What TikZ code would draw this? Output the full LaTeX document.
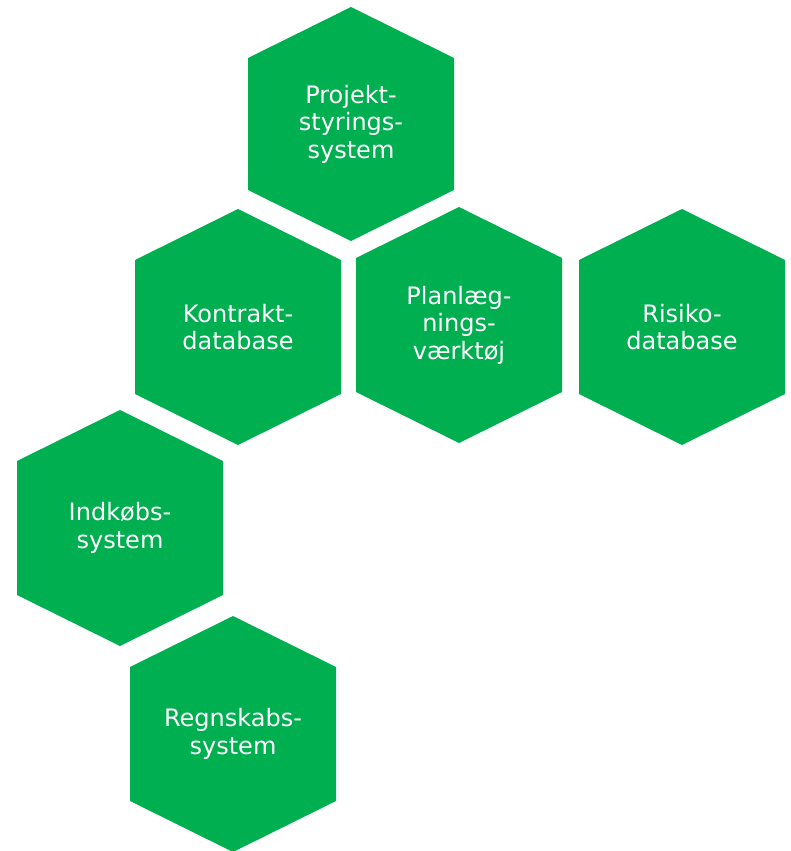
\documentclass[tikz,border=0pt]{standalone}
\usepackage{fontspec}
\setmainfont{DejaVu Sans}
\definecolor{hexgreen}{RGB}{0,176,80}
\begin{document}
\begin{tikzpicture}[x=1pt,y=-1pt,
  hexlabel/.style={text=white,align=center,font=\fontsize{24}{27.5}\selectfont}]
\useasboundingbox (0,0) rectangle (790,851);
\fill[hexgreen] (351,7) -- (454,58) -- (454,190) -- (351,241) -- (248,190) -- (248,58) -- cycle;
\node[hexlabel] (proj) at (351,124) {Projekt-\\styrings-\\system};
\fill[hexgreen] (238,209) -- (341,260) -- (341,394) -- (238,445) -- (135,394) -- (135,260) -- cycle;
\node[hexlabel] (kontr) at (238,327) {Kontrakt-\\database};
\fill[hexgreen] (459,207) -- (562,258) -- (562,392) -- (459,443) -- (356,392) -- (356,258) -- cycle;
\node[hexlabel] (plan) at (459,325) {Planlæg-\\nings-\\værktøj};
\fill[hexgreen] (682,209) -- (785,260) -- (785,394) -- (682,445) -- (579,394) -- (579,260) -- cycle;
\node[hexlabel] (risk) at (682,327) {Risiko-\\database};
\fill[hexgreen] (120,410) -- (223,461) -- (223,595) -- (120,646) -- (17,595) -- (17,461) -- cycle;
\node[hexlabel] (indk) at (120,528) {Indkøbs-\\system};
\fill[hexgreen] (233,616) -- (336,667) -- (336,801) -- (233,852) -- (130,801) -- (130,667) -- cycle;
\node[hexlabel] (regn) at (233,734) {Regnskabs-\\system};
\end{tikzpicture}
\end{document}
